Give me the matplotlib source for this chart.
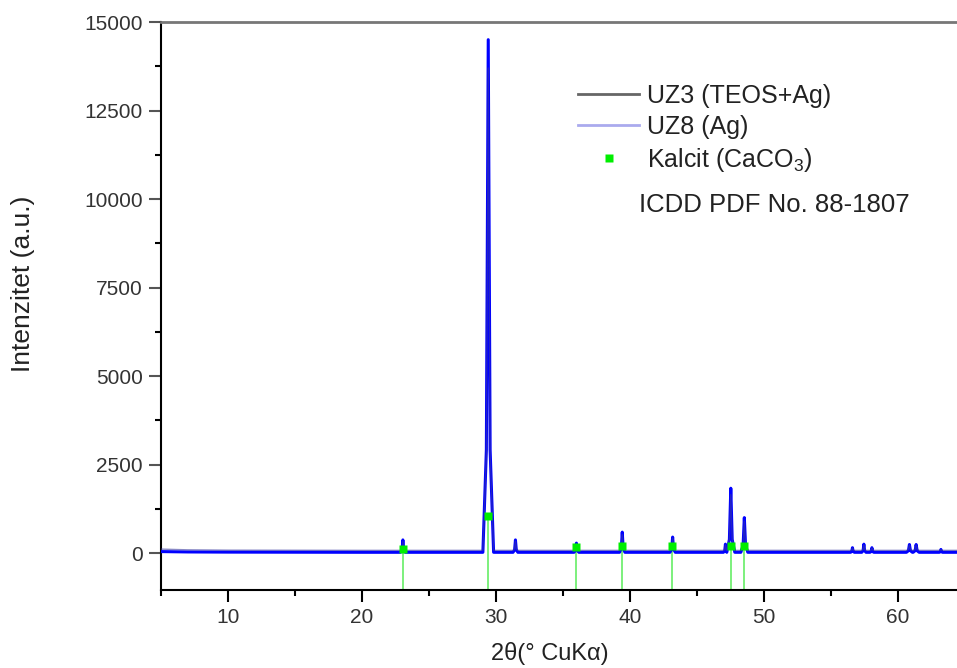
import matplotlib
matplotlib.use("Agg")
import matplotlib.pyplot as plt
from matplotlib.lines import Line2D

plt.rcParams['font.family'] = ['Liberation Sans', 'DejaVu Sans']
plt.rcParams['mathtext.fontset'] = 'custom'
plt.rcParams['mathtext.rm'] = 'Liberation Sans'
plt.rcParams['mathtext.it'] = 'Liberation Sans:italic'

# baseline points (2theta, intensity)
base_x = [5.0, 7.0, 10.0, 20.0, 30.0, 40.0, 50.0, 60.0, 64.4]
uz3_base = [110, 90, 80, 75, 75, 75, 75, 75, 75]
uz8_base = [40, 30, 25, 20, 20, 20, 20, 20, 20]

# peaks: centre, half width at base
peak_pos = [23.05, 29.42, 31.45, 36.0, 39.42, 43.18, 47.12, 47.52, 48.53,
            56.6, 57.45, 58.05, 60.85, 61.35, 63.2]
peak_hw = [0.18, 0.4, 0.18, 0.18, 0.2, 0.2, 0.15, 0.3, 0.26,
           0.14, 0.16, 0.14, 0.22, 0.22, 0.12]
uz8_peaks = [370, 14500, 370, 280, 590, 450, 250, 1830, 1000,
             150, 250, 150, 240, 240, 100]
uz3_peaks = [330, 13700, 330, 260, 520, 420, 230, 1650, 900,
             140, 220, 140, 220, 220, 90]

# Kalcit (CaCO3) ICDD PDF No. 88-1807
calc_pos = [23.06, 29.41, 35.97, 39.41, 43.16, 47.51, 48.52]
calc_int = [100, 1040, 170, 190, 190, 200, 200]


def profile(base, peaks):
    pts = list(zip(base_x, base))
    for c, hw, h in zip(peak_pos, peak_hw, peaks):
        b = base[-1] if c > 30 else base[3]
        pts = [p for p in pts if not (c - hw <= p[0] <= c + hw)]
        pts += [(c - hw, b), (c - hw * 0.35, b + (h - b) * 0.2), (c, h),
                (c + hw * 0.35, b + (h - b) * 0.2), (c + hw, b)]
    pts.sort()
    return [p[0] for p in pts], [p[1] for p in pts]


fig = plt.figure(figsize=(9.57, 6.68), dpi=100)
ax = fig.add_axes([161 / 957, 78 / 668, 796 / 957, 568 / 668])

x8, y8 = profile(uz8_base, uz8_peaks)
x3, y3 = profile(uz3_base, uz3_peaks)
ax.plot(x8, y8, color='#0000ff', lw=2.2, zorder=3)
ax.plot(x3, y3, color='#3a3aa0', lw=1.0, alpha=0.6, zorder=4)

ymin = -1045
ax.vlines(calc_pos, ymin, calc_int, color='#66ee66', lw=1.2, zorder=2)
ax.plot(calc_pos, calc_int, 's', color='#00ee00', ms=6, mec='none', zorder=5)

ax.set_xlim(5, 64.4)
ax.set_ylim(ymin, 15000)
ax.set_xticks([10, 20, 30, 40, 50, 60])
ax.set_xticks([5, 15, 25, 35, 45, 55], minor=True)
ax.set_yticks([0, 2500, 5000, 7500, 10000, 12500, 15000])
ax.set_yticks([1250, 3750, 6250, 8750, 11250, 13750], minor=True)
ax.tick_params(which='major', direction='out', length=8.6, width=1.5,
               labelsize=15, labelcolor='#333333', pad=4.3)
ax.tick_params(which='minor', direction='out', length=4, width=1.5)
ax.tick_params(axis='y', which='major', color='#555555')
ax.spines['right'].set_visible(False)
for s in ['left', 'bottom']:
    ax.spines[s].set_linewidth(1.5)
ax.spines['top'].set_linewidth(2)
ax.spines['top'].set_color('#777777')

ax.set_xlabel('2θ(° CuKα)', fontsize=17, color='#222222')
ax.set_ylabel('Intenzitet (a.u.)', fontsize=19, color='#222222')
ax.xaxis.set_label_coords(0.489, -0.112)
ax.yaxis.set_label_coords(-0.173, 0.539)
ax.xaxis.label.set_va('center')
ax.yaxis.label.set_va('center')

handles = [Line2D([], [], color='#666666', lw=2),
           Line2D([], [], color='#aaaaee', lw=2),
           Line2D([], [], ls='none', marker='s', color='#00ee00', ms=6, mec='none')]
labels = ['UZ3 (TEOS+Ag)', 'UZ8 (Ag)', 'Kalcit (CaCO$_3$)']
leg = ax.legend(handles, labels, loc='upper left', bbox_to_anchor=(0.524, 0.891),
                frameon=False, fontsize=18, handlelength=2.45, handletextpad=0.32,
                labelspacing=0.28, borderpad=0, borderaxespad=0)
for t in leg.get_texts():
    t.set_color('#222222')
ax.text(0.600, 0.678, 'ICDD PDF No. 88-1807', transform=ax.transAxes,
        fontsize=18.5, color='#222222', va='center')

fig.savefig('out.png', dpi=100)
